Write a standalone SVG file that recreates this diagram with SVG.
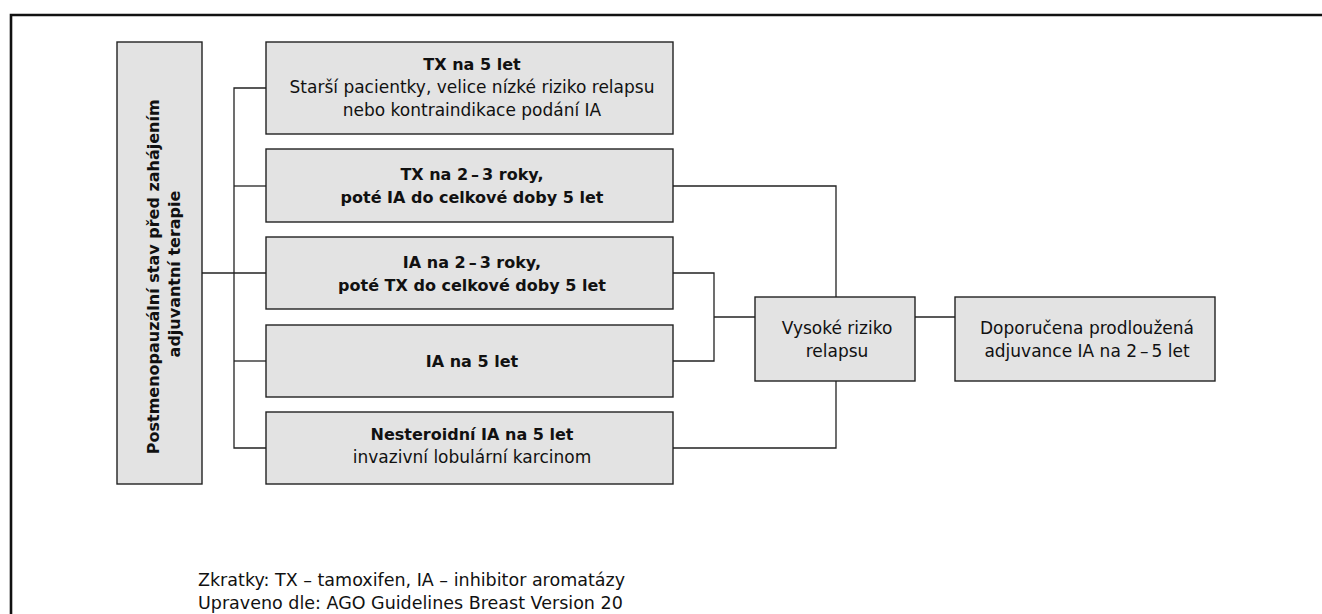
<svg xmlns="http://www.w3.org/2000/svg" width="1322" height="614" viewBox="0 0 1322 614">
  <style>
    .box { fill: #e3e3e3; stroke: #222; stroke-width: 1.4; }
    .wire { fill: none; stroke: #222; stroke-width: 1.3; }
    text { font-family: "DejaVu Sans", "Liberation Sans", sans-serif; fill: #111; }
    .t { font-size: 17px; text-anchor: middle; }
    .b { font-weight: bold; font-size: 16px; }
    .note { font-size: 17.5px; }
  </style>
  <rect width="1322" height="614" fill="#fff"/>
  <!-- outer frame (top and left edges visible) -->
  <path d="M11,614 V15 H1322" fill="none" stroke="#111" stroke-width="2.6"/>

  <g id="connectors">
    <path class="wire" d="M202,273 H266"/>
    <path class="wire" d="M266,88 H234 V448 H266"/>
    <path class="wire" d="M234,186 H266"/>
    <path class="wire" d="M234,361 H266"/>
    <path class="wire" d="M673,186 H836 V297"/>
    <path class="wire" d="M673,448 H836 V381"/>
    <path class="wire" d="M673,273 H714 V361 H673"/>
    <path class="wire" d="M714,317 H755"/>
    <path class="wire" d="M915,317 H955"/>
  </g>

  <g id="start">
    <rect class="box" x="117" y="42" width="85" height="442"/>
    <text class="t b" transform="translate(160,274) rotate(-90)">
      <tspan x="0" y="-1">Postmenopauzální stav před zahájením</tspan>
      <tspan x="0" y="20">adjuvantní terapie</tspan>
    </text>
  </g>

  <g id="tx5">
    <rect class="box" x="266" y="42" width="407" height="92"/>
    <text class="t" x="472" y="70"><tspan class="b">TX na 5 let</tspan><tspan x="472" dy="23">Starší pacientky, velice nízké riziko relapsu</tspan><tspan x="472" dy="23">nebo kontraindikace podání IA</tspan></text>
  </g>

  <g id="tx-ia">
    <rect class="box" x="266" y="149" width="407" height="73"/>
    <text class="t b" x="472" y="180">TX na 2<tspan dx="3">–</tspan><tspan dx="3">3 roky,</tspan><tspan x="472" dy="23">poté IA do celkové doby 5 let</tspan></text>
  </g>

  <g id="ia-tx">
    <rect class="box" x="266" y="237" width="407" height="72"/>
    <text class="t b" x="472" y="268">IA na 2<tspan dx="3">–</tspan><tspan dx="3">3 roky,</tspan><tspan x="472" dy="23">poté TX do celkové doby 5 let</tspan></text>
  </g>

  <g id="ia5">
    <rect class="box" x="266" y="325" width="407" height="72"/>
    <text class="t b" x="472" y="367">IA na 5 let</text>
  </g>

  <g id="nsai5">
    <rect class="box" x="266" y="412" width="407" height="72"/>
    <text class="t" x="472" y="440"><tspan class="b">Nesteroidní IA na 5 let</tspan><tspan x="472" dy="23">invazivní lobulární karcinom</tspan></text>
  </g>

  <g id="high-risk">
    <rect class="box" x="755" y="297" width="160" height="84"/>
    <text class="t" x="837" y="334">Vysoké riziko<tspan x="837" dy="23">relapsu</tspan></text>
  </g>

  <g id="extended">
    <rect class="box" x="955" y="297" width="260" height="84"/>
    <text class="t" x="1087" y="334">Doporučena prodloužená<tspan x="1087" dy="23">adjuvance IA na 2<tspan dx="3">–</tspan><tspan dx="3">5 let</tspan></tspan></text>
  </g>

  <g id="footnote">
    <text class="note" x="198" y="586">Zkratky: TX – tamoxifen, IA – inhibitor aromatázy</text>
    <text class="note" x="198" y="609">Upraveno dle: AGO Guidelines Breast Version 20</text>
  </g>
</svg>
